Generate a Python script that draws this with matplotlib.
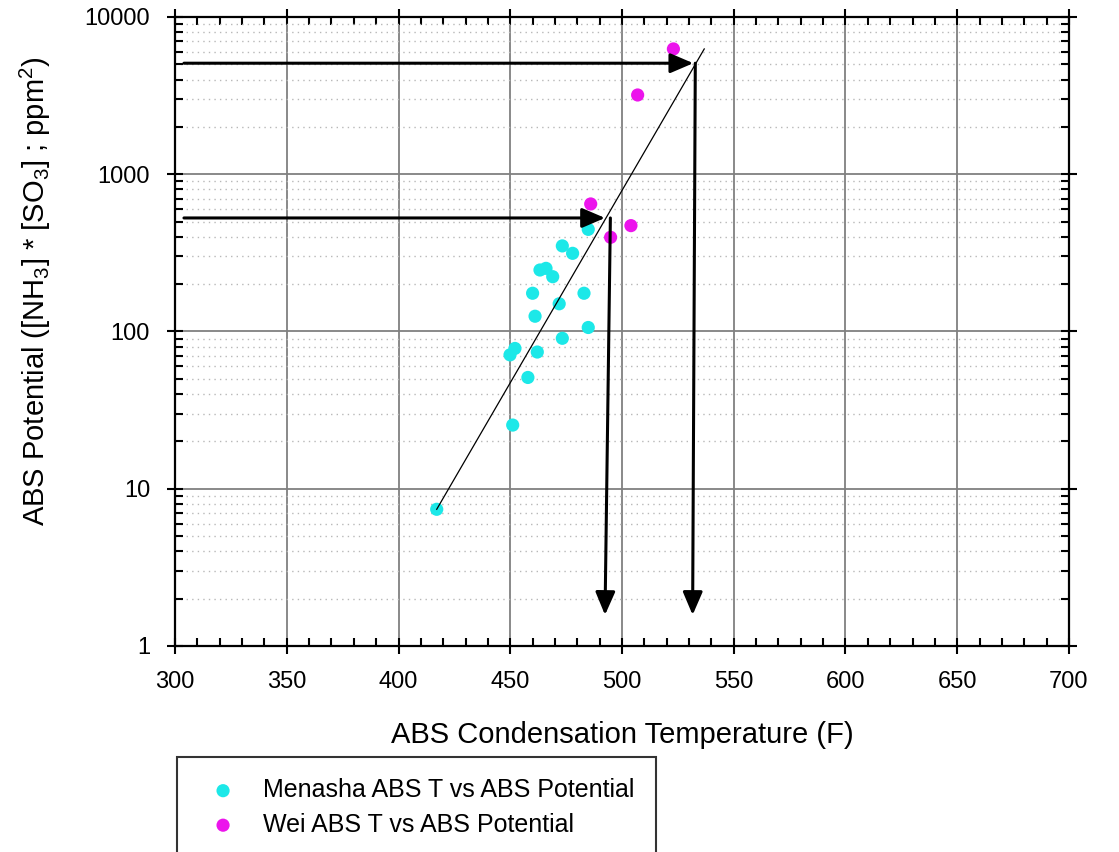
import matplotlib
matplotlib.use("Agg")
import matplotlib.pyplot as plt
from matplotlib.ticker import MultipleLocator, LogLocator, FixedLocator, FixedFormatter, NullFormatter

plt.rcParams['font.family'] = ['Liberation Sans', 'DejaVu Sans']
plt.rcParams['mathtext.default'] = 'regular'

# Menasha data (ABS temperature F, ABS potential ppm^2)
menasha_t = [417.1, 451.1, 457.9, 484.9, 473.3, 477.9, 463.3, 466.0, 469.0,
             460.0, 483.0, 471.9, 461.1, 484.9, 473.3, 452.1, 449.9, 462.1]
menasha_p = [7.4, 25.4, 51, 446, 350, 314, 246, 252, 223,
             175, 175, 150, 125, 106, 90.5, 78, 71, 74]

# Wei data
wei_t = [486.0, 504.0, 494.9, 523.0, 507.0]
wei_p = [647, 471, 397, 6260, 3190]

# trend line end points
trend_t = [417.1, 536.8]
trend_p = [7.4, 6260]

# read-off arrows: (start x, start y) -> corner -> bottom
arrow_upper = [(304, 5080), (531.9, 5080), (532.8, 5080), (531.6, 1.575)]
arrow_lower = [(304, 527), (492.4, 527), (494.8, 527), (492.4, 1.575)]

fig = plt.figure(figsize=(11.19, 8.52), dpi=100)
ax = fig.add_axes([0.1564, 0.2418, 0.7989, 0.7383])

ax.set_yscale('log')
ax.set_xlim(300, 700)
ax.set_ylim(1, 10000)

# grid
ax.grid(True, which='major', color='#808080', lw=1.3, zorder=0)
ax.grid(True, which='minor', axis='y', color='#b8b8b8', lw=1.0, ls=(0, (1, 3)), zorder=0)
ax.set_axisbelow(True)

ax.scatter(menasha_t, menasha_p, s=90, color='#1ce8e8', edgecolors='none',
           label='Menasha ABS T vs ABS Potential', zorder=3)
ax.scatter(wei_t, wei_p, s=90, color='#ec14ec', edgecolors='none',
           label='Wei ABS T vs ABS Potential', zorder=3)
ax.plot(trend_t, trend_p, color='black', lw=0.9, zorder=4)

astyle = '-|>,head_length=0.7,head_width=0.3'
for arr in (arrow_upper, arrow_lower):
    ax.annotate('', xy=arr[1], xytext=arr[0],
                arrowprops=dict(arrowstyle=astyle, lw=2.2, color='black',
                                mutation_scale=20, shrinkA=0, shrinkB=0), zorder=5)
    ax.annotate('', xy=arr[3], xytext=arr[2],
                arrowprops=dict(arrowstyle=astyle, lw=2.2, color='black',
                                mutation_scale=20, shrinkA=0, shrinkB=0), zorder=5)

# ticks
ax.xaxis.set_major_locator(MultipleLocator(50))
ax.xaxis.set_minor_locator(MultipleLocator(10))
ax.yaxis.set_major_locator(FixedLocator([1, 10, 100, 1000, 10000]))
ax.yaxis.set_major_formatter(FixedFormatter(['1', '10', '100', '1000', '10000']))
ax.yaxis.set_minor_locator(LogLocator(base=10, subs=range(2, 10)))
ax.yaxis.set_minor_formatter(NullFormatter())
ax.tick_params(which='major', direction='inout', length=12, width=1.5,
               top=True, right=True, labelsize=17, pad=12, colors='black')
ax.tick_params(which='minor', direction='in', length=6, width=1.5,
               top=True, right=True)
for sp in ax.spines.values():
    sp.set_linewidth(1.6)

ax.set_xlabel('ABS Condensation Temperature (F)', fontsize=21, va='center')
ax.xaxis.set_label_coords(0.5, (646 - 735) / 629)
ax.set_ylabel('ABS Potential ([NH$_3$] * [SO$_3$] ; ppm$^2$)', fontsize=21, va='center')
ax.yaxis.set_label_coords((35 - 175) / 894, 0.564)

leg = fig.legend(loc='upper left', bbox_to_anchor=(0.158, 0.1115),
                 bbox_transform=fig.transFigure, fontsize=18, frameon=True,
                 fancybox=False, edgecolor='black', borderpad=0.85,
                 labelspacing=0.42, handletextpad=0.6, markerscale=1.0,
                 borderaxespad=0)
leg.get_frame().set_linewidth(1.5)

fig.savefig('out.png', dpi=100)
